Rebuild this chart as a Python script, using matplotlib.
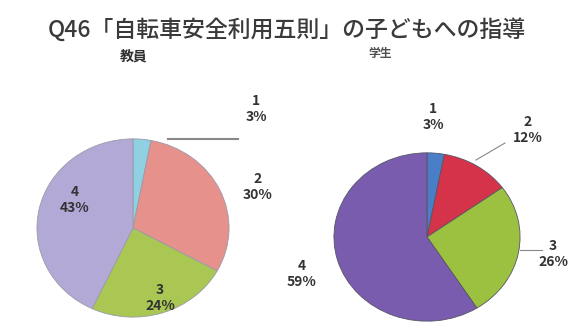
import matplotlib
matplotlib.use("Agg")
import matplotlib.pyplot as plt

plt.rcParams['font.family'] = ['Noto Sans CJK JP', 'DejaVu Sans']

title = 'Q46「自転車安全利用五則」の子どもへの指導'
groups = ['教員', '学生']
cats = ['1', '2', '3', '4']
teacher = [3, 30, 24, 43]
student = [3, 12, 26, 59]

teacher_colors = ['#8fd0e3', '#e6918c', '#a9c752', '#b2a9d6']
student_colors = ['#4a7ec6', '#d5334a', '#9cc03f', '#7a5cae']

W, H = 574, 331
fig = plt.figure(figsize=(W / 100, H / 100), dpi=100)
fig.patch.set_facecolor('white')


def px_axes(cx, cy, rx, ry):
    return fig.add_axes([(cx - rx) / W, 1 - (cy + ry) / H, 2 * rx / W, 2 * ry / H])


fig.text(287 / W, 1 - 30 / H, title, ha='center', va='center', fontsize=16.5,
         fontweight='medium', color='#3a3a3a')
fig.text(134 / W, 1 - 57 / H, groups[0], ha='center', va='center', fontsize=10,
         fontweight='bold', color='#303030')
fig.text(380 / W, 1 - 54 / H, groups[1], ha='center', va='center', fontsize=8.5,
         fontweight='bold', color='#505050')

# left pie (teachers)
ax1 = px_axes(133, 228, 97, 90)
ax1.pie(teacher, colors=teacher_colors, startangle=90, counterclock=False,
        wedgeprops=dict(edgecolor='#9a9aa8', linewidth=0.6))
ax1.set_aspect('auto')
ax1.set_xlim(-1.01, 1.01)
ax1.set_ylim(-1.01, 1.01)
ax1.axis('off')

# right pie (students)
ax2 = px_axes(427, 237, 94, 85)
ax2.pie(student, colors=student_colors, startangle=90, counterclock=False,
        wedgeprops=dict(edgecolor='#555566', linewidth=0.6))
ax2.set_aspect('auto')
ax2.set_xlim(-1.01, 1.01)
ax2.set_ylim(-1.01, 1.01)
ax2.axis('off')

lbl = dict(ha='center', va='center', fontsize=10, color='#333333',
           fontweight='bold', linespacing=1.25)

# teacher labels
t_pos = [(256, 109), (258, 187), (160, 298), (75, 200)]
for (x, y), c, v in zip(t_pos, cats, teacher):
    fig.text(x / W, 1 - y / H, f'{c}\n{v}%', **lbl)
fig.add_artist(plt.Line2D([168 / W, 238 / W], [1 - 139 / H, 1 - 139 / H],
                          color='#888888', lw=1.5))

# student labels
s_pos = [(433, 117), (528, 130), (553, 254), (302, 274)]
for (x, y), c, v in zip(s_pos, cats, student):
    fig.text(x / W, 1 - y / H, f'{c}\n{v}%', **lbl)
fig.add_artist(plt.Line2D([476 / W, 505 / W], [1 - 160 / H, 1 - 143 / H],
                          color='#888888', lw=0.8))
fig.add_artist(plt.Line2D([520 / W, 542 / W], [1 - 250 / H, 1 - 250 / H],
                          color='#888888', lw=0.8))

fig.savefig('out.png', dpi=100, facecolor='white')
